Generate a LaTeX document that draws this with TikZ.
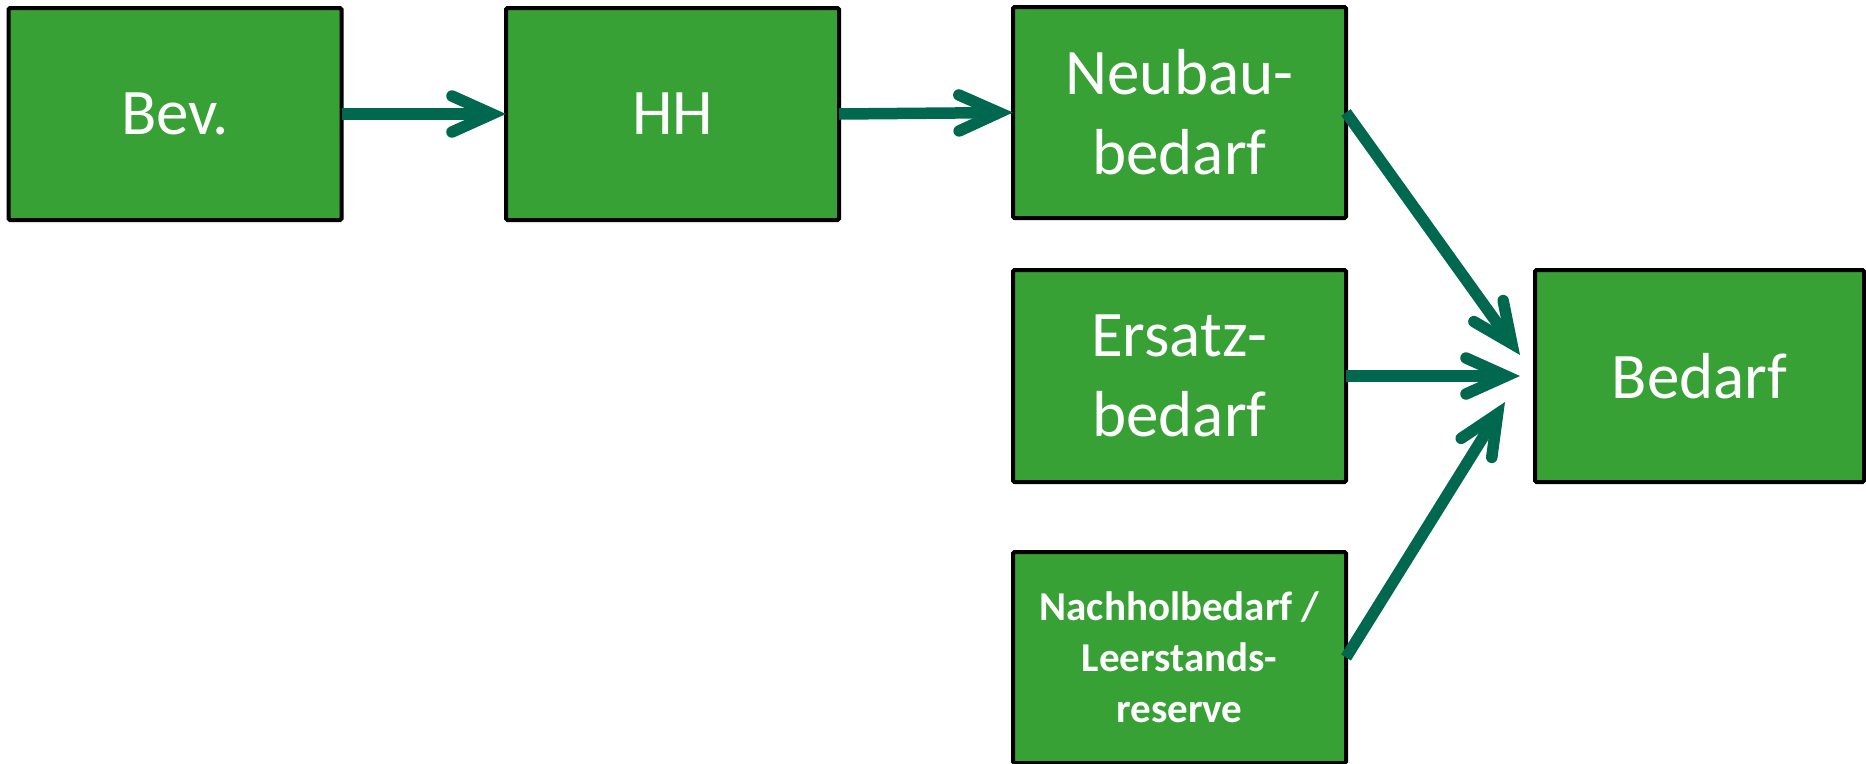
\documentclass[tikz,border=0pt]{standalone}
\usepackage{fontspec}
\setmainfont{Carlito}
\usetikzlibrary{arrows.meta,calc}
\definecolor{boxgreen}{RGB}{55,161,53}
\definecolor{arrowgreen}{RGB}{0,104,78}
\tikzset{
  box/.style={draw=black, line width=4pt, fill=boxgreen, text=white,
    minimum width=333pt, minimum height=212pt, inner sep=0pt, outer sep=0pt,
    align=center, rounded corners=1.5pt, font=\fontsize{65}{80}\selectfont},
  smallbox/.style={box, font=\fontsize{41}{51}\selectfont\bfseries},
  conn/.style={draw=arrowgreen, line width=11.5pt,
    -{Straight Barb[length=40pt, width=36pt, line width=11.5pt, line cap=round, line join=miter]}}
}
\begin{document}
\begin{tikzpicture}[x=1pt,y=-1pt]
\useasboundingbox (0,0) rectangle (1866,763);
\node[box] (bev) at (175,114) {Bev.};
\node[box] (hh) at (672.5,114) {HH};
\node[box, minimum height=211pt] (neu) at (1179.5,112.5) {Neubau-\\bedarf};
\node[box] (ers) at (1179.5,376) {Ersatz-\\bedarf};
\node[smallbox, minimum height=211pt] (nach) at (1179.5,657.5) {Nachholbedarf /\\Leerstands-\\reserve};
\node[box, minimum width=329pt] (bed) at (1699.5,376) {Bedarf};
\draw[conn] (bev.east) -- (hh.west);
\draw[conn] (hh.east) -- (neu.west);
\draw[conn] (neu.east) -- ($(bed.west)+(-15,-21)$);
\draw[conn] (ers.east) -- ($(bed.west)+(-15,0)$);
\draw[conn] (nach.east) -- ($(bed.west)+(-30,26)$);
\end{tikzpicture}
\end{document}
